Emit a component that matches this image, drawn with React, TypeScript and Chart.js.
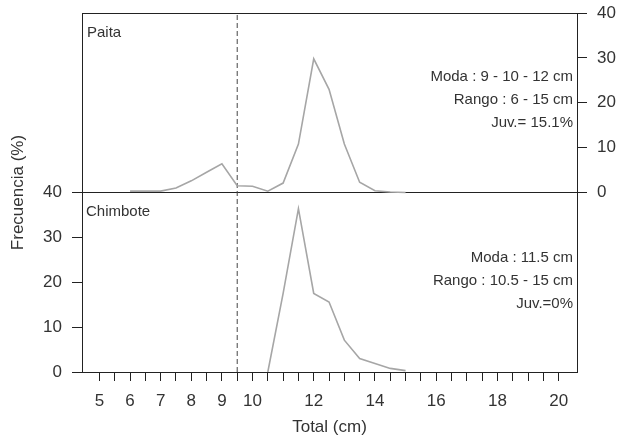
import React, { useEffect, useRef } from "react";
import { Chart, registerables } from "chart.js";

Chart.register(...registerables);

// ---- data ----
const PAITA_LENGTHS = [6, 6.5, 7, 7.5, 8, 8.5, 9, 9.5, 10, 10.5, 11, 11.5, 12, 12.5, 13, 13.5, 14, 14.5, 15];
const PAITA_FREQ = [0.3, 0.3, 0.3, 1.0, 2.6, 4.5, 6.4, 1.5, 1.4, 0.3, 2.1, 10.8, 29.8, 23.0, 10.8, 2.3, 0.4, 0.1, 0];

const CHIMBOTE_LENGTHS = [10.5, 11, 11.5, 12, 12.5, 13, 13.5, 14, 14.5, 15];
const CHIMBOTE_FREQ = [0, 17.5, 36.4, 17.5, 15.6, 7.1, 3.0, 1.9, 0.8, 0.3];

const JUVENILE_CUT = 9.5;

const X_LABELS = [5, 6, 7, 8, 9, 10, 12, 14, 16, 18, 20];
const X_TICK_FIRST = 5;
const X_TICK_LAST = 20;
const X_TICK_STEP = 0.5;
const LEFT_TICKS = [0, 10, 20, 30, 40];
const RIGHT_TICKS = [0, 10, 20, 30, 40];

const PAITA_NOTES = ["Moda : 9 - 10 - 12 cm", "Rango : 6 - 15 cm", "Juv.= 15.1%"];
const CHIMBOTE_NOTES = ["Moda : 11.5 cm", "Rango : 10.5 - 15 cm", "Juv.=0%"];

const FONT = "'Liberation Sans', Arial, sans-serif";
const INK = "#222";
const TEXT = "#333";
const LINE = "#a6a6a6";

const noPad = (s: any) => {
  s.paddingTop = 0;
  s.paddingBottom = 0;
  s.paddingLeft = 0;
  s.paddingRight = 0;
};

const panelPlugin = {
  id: "panelText",
  afterDraw(chart: any) {
    const { ctx, chartArea: ca } = chart;
    const mid = chart.scales.yL.getPixelForValue(40);
    ctx.save();
    // top frame line
    ctx.strokeStyle = INK;
    ctx.lineWidth = 1;
    ctx.beginPath();
    ctx.moveTo(ca.left, ca.top + 0.5);
    ctx.lineTo(ca.right, ca.top + 0.5);
    ctx.stroke();

    ctx.fillStyle = TEXT;
    ctx.textBaseline = "middle";
    ctx.font = `15px ${FONT}`;
    ctx.textAlign = "left";
    ctx.fillText("Paita", ca.left + 5, ca.top + 20);
    ctx.fillText("Chimbote", ca.left + 4, mid + 19);

    ctx.textAlign = "right";
    const offs = [64, 87, 110];
    PAITA_NOTES.forEach((t, i) => ctx.fillText(t, ca.right - 4, ca.top + offs[i]));
    CHIMBOTE_NOTES.forEach((t, i) => ctx.fillText(t, ca.right - 4, mid + offs[i] + 1));
    ctx.restore();
  },
};

export default function App() {
  const ref = useRef<HTMLCanvasElement>(null);

  useEffect(() => {
    if (!ref.current) return;
    const xTicks: number[] = [];
    for (let v = X_TICK_FIRST; v <= X_TICK_LAST + 1e-9; v += X_TICK_STEP) xTicks.push(v);

    const chart = new Chart(ref.current, {
      type: "line",
      data: {
        datasets: [
          {
            label: "Paita",
            data: PAITA_LENGTHS.map((x, i) => ({ x, y: PAITA_FREQ[i] })),
            yAxisID: "yR",
            borderColor: LINE,
            borderWidth: 1.6,
            pointRadius: 0,
            tension: 0,
          },
          {
            label: "Chimbote",
            data: CHIMBOTE_LENGTHS.map((x, i) => ({ x, y: CHIMBOTE_FREQ[i] })),
            yAxisID: "yL",
            borderColor: LINE,
            borderWidth: 1.6,
            pointRadius: 0,
            tension: 0,
          },
          {
            label: "cut",
            data: [
              { x: JUVENILE_CUT, y: 0 },
              { x: JUVENILE_CUT, y: 80 },
            ],
            yAxisID: "yL",
            borderColor: "#444",
            borderWidth: 1,
            borderDash: [5, 3],
            pointRadius: 0,
          },
        ],
      },
      options: {
        responsive: false,
        animation: false,
        layout: { padding: { top: 13, left: 0, right: 0, bottom: 0 } },
        plugins: { legend: { display: false }, tooltip: { enabled: false } },
        scales: {
          x: {
            type: "linear",
            min: 4.43,
            max: 20.6,
            afterBuildTicks: (s: any) => {
              s.ticks = xTicks.map((v) => ({ value: v }));
            },
            afterFit: (s: any) => {
              s.height = 66;
              noPad(s);
            },
            ticks: {
              autoSkip: false,
              maxRotation: 0,
              padding: 10,
              color: TEXT,
              font: { family: FONT, size: 17 },
              callback: (v: any) => (X_LABELS.includes(Number(v)) ? String(v) : ""),
            },
            grid: { drawOnChartArea: false, color: INK, tickColor: INK, tickLength: 9 },
            border: { display: true, color: INK, width: 1 },
            title: {
              display: true,
              text: "Total (cm)",
              color: TEXT,
              font: { family: FONT, size: 17 },
              padding: { top: 0, bottom: 0 },
            },
          },
          yL: {
            type: "linear",
            position: "left",
            min: 0,
            max: 80,
            afterBuildTicks: (s: any) => {
              s.ticks = LEFT_TICKS.map((v) => ({ value: v }));
            },
            afterFit: (s: any) => {
              s.width = 82;
              noPad(s);
            },
            ticks: { padding: 10, color: TEXT, font: { family: FONT, size: 17 } },
            grid: {
              drawOnChartArea: true,
              color: (c: any) => (c.tick && c.tick.value === 40 ? INK : "rgba(0,0,0,0)"),
              tickColor: INK,
              tickLength: 10,
            },
            border: { display: true, color: INK, width: 1 },
            title: {
              display: true,
              text: "Frecuencia (%)",
              color: TEXT,
              font: { family: FONT, size: 17 },
              padding: { top: 8, bottom: 0 },
            },
          },
          yR: {
            type: "linear",
            position: "right",
            min: -40,
            max: 40,
            afterBuildTicks: (s: any) => {
              s.ticks = RIGHT_TICKS.map((v) => ({ value: v }));
            },
            afterFit: (s: any) => {
              s.width = 42;
              noPad(s);
            },
            ticks: { padding: 10, color: TEXT, font: { family: FONT, size: 17 } },
            grid: { drawOnChartArea: false, color: INK, tickColor: INK, tickLength: 10 },
            border: { display: true, color: INK, width: 1 },
          },
        },
      },
      plugins: [panelPlugin],
    });
    return () => chart.destroy();
  }, []);

  return (
    <div style={{ position: "fixed", left: 0, top: 0, width: 619, height: 438, background: "#fff" }}>
      <canvas ref={ref} width={619} height={438} />
    </div>
  );
}
